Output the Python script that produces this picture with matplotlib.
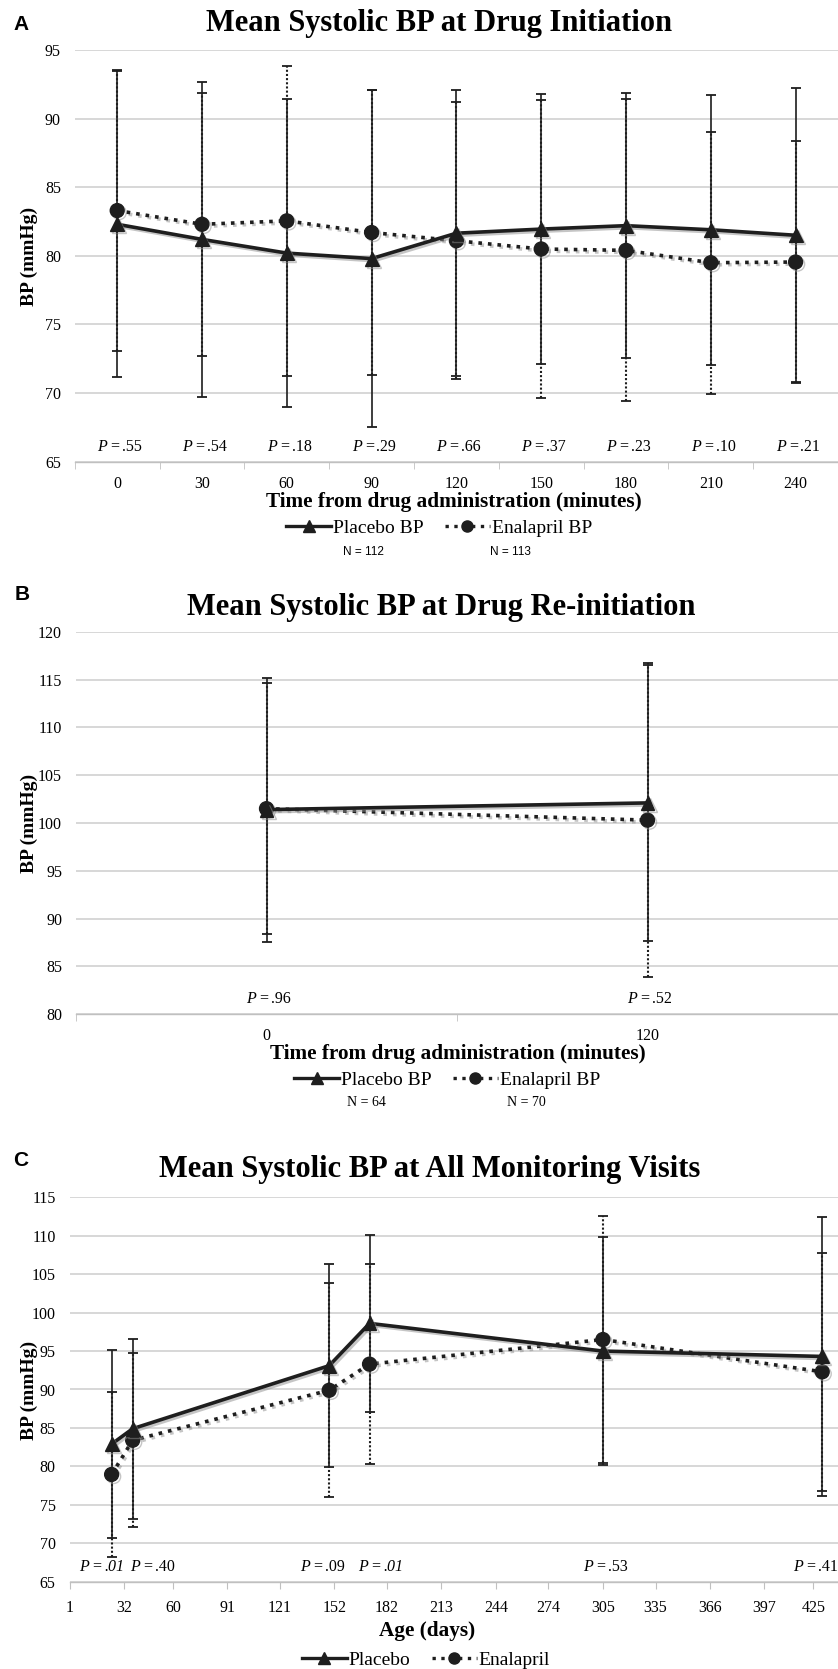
# recreate the three-panel systolic BP figure
import matplotlib
matplotlib.use('Agg')
import matplotlib.pyplot as plt
import matplotlib.patheffects as pe
from matplotlib.lines import Line2D

# ---------------- data ----------------
# panel A: drug initiation
a_times = ['0', '30', '60', '90', '120', '150', '180', '210', '240']
a_placebo_mean = [82.3, 81.2, 80.2, 79.8, 81.65, 81.95, 82.2, 81.9, 81.5]
a_placebo_sd = [11.15, 11.5, 11.2, 12.3, 10.4, 9.85, 9.65, 9.85, 10.7]
a_enal_mean = [83.3, 82.3, 82.55, 81.7, 81.1, 80.5, 80.4, 79.5, 79.55]
a_enal_sd = [10.25, 9.6, 11.3, 10.4, 10.1, 10.85, 11.0, 9.55, 8.85]
a_pvals = ['.55', '.54', '.18', '.29', '.66', '.37', '.23', '.10', '.21']
a_counts = ['N = 112', 'N = 113']

# panel B: drug re-initiation
b_times = ['0', '120']
b_placebo_mean = [101.4, 102.1]
b_placebo_sd = [13.8, 14.4]
b_enal_mean = [101.5, 100.3]
b_enal_sd = [13.1, 16.4]
b_pvals = ['.96', '.52']
b_counts = ['N = 64', 'N = 70']

# panel C: all monitoring visits
c_days = [25, 37, 149, 172, 305, 430]
c_placebo_mean = [82.9, 84.9, 93.1, 98.6, 95.0, 94.3]
c_placebo_sd = [12.2, 11.7, 13.2, 11.5, 14.8, 18.2]
c_enal_mean = [78.95, 83.4, 89.9, 93.3, 96.5, 92.3]
c_enal_sd = [10.7, 11.3, 13.9, 13.0, 16.1, 15.5]
c_pvals = ['.01', '.40', '.09', '.01', '.53', '.41']
c_pval_italic = [True, False, False, True, False, False]
c_ticks = [1, 32, 60, 91, 121, 152, 182, 213, 244, 274, 305, 335, 366, 397, 425]

# ---------------- style ----------------
plt.rcParams['font.family'] = ['Liberation Serif', 'DejaVu Serif']
plt.rcParams['mathtext.fontset'] = 'custom'
plt.rcParams['mathtext.rm'] = 'Liberation Serif'
plt.rcParams['mathtext.it'] = 'Liberation Serif:italic'

W, H = 838, 1669
dark = '#1e1e1e'
grid_col = '#d4d4d4'
shadow = [pe.SimpleLineShadow(offset=(1.5, -1.5), shadow_color='0.55', alpha=0.5), pe.Normal()]

fig = plt.figure(figsize=(W / 100, H / 100), dpi=100)


def px_axes(left, top, right, bottom):
    # axes box given in pixels from the top-left corner
    return fig.add_axes([left / W, 1 - bottom / H, (right - left) / W, (bottom - top) / H])


def fx(x):
    return x / W


def fy(y):
    return 1 - y / H


def base_style(ax, ylo, yhi, step):
    # grey gridlines, no frame except the bottom axis
    ax.set_ylim(ylo, yhi)
    ax.set_yticks(range(ylo, yhi + 1, step))
    ax.grid(axis='y', color=grid_col, lw=1.3)
    ax.set_axisbelow(True)
    for s in ['left', 'right', 'top']:
        ax.spines[s].set_visible(False)
    ax.spines['bottom'].set_color('#c0c0c0')
    ax.spines['bottom'].set_linewidth(1.0)
    ax.tick_params(axis='y', length=0, pad=10, labelsize=11.5)
    ax.tick_params(axis='x', labelsize=11.5)


def draw_series(ax, x, p_mean, p_sd, e_mean, e_sd):
    # error bars first, then the mean lines on top
    ax.errorbar(x, p_mean, yerr=p_sd, fmt='none', ecolor=dark, elinewidth=1.2,
                capsize=3.5, capthick=1.3, zorder=3)
    eb = ax.errorbar(x, e_mean, yerr=e_sd, fmt='none', ecolor=dark, elinewidth=1.5,
                     capsize=3.5, capthick=1.3, zorder=3)
    eb[2][0].set_linestyle((0, (1, 1)))
    ax.plot(x, p_mean, color=dark, lw=2.6, marker='^', ms=10, zorder=5, path_effects=shadow)
    ax.plot(x, e_mean, color=dark, lw=2.6, ls=':', marker='o', ms=10, zorder=4, path_effects=shadow)


def add_legend(ax, labels, cx, cy):
    handles = [Line2D([], [], color=dark, lw=2.4, marker='^', ms=8),
               Line2D([], [], color=dark, lw=2.4, ls=':', marker='o', ms=8)]
    ax.legend(handles, labels, loc='center', bbox_to_anchor=(fx(cx), fy(cy)),
              bbox_transform=fig.transFigure, ncol=2, frameon=False, fontsize=14,
              handlelength=2.3, handletextpad=0.1, columnspacing=1.1)


def p_label(ax, x, y, value, italic=False):
    # "P = " with an italic P, value to the right (italic when asked)
    ax.annotate('$P$ = ', xy=(x, y), xytext=(3.5, 0), textcoords='offset points',
                ha='right', va='center', fontsize=11.5)
    ax.annotate(value, xy=(x, y), xytext=(3.5, 0), textcoords='offset points',
                ha='left', va='center', fontsize=11.5,
                style='italic' if italic else 'normal')


# ---------------- panel A ----------------
ax = px_axes(74.8, 50, 838, 461.7)
xa = range(len(a_times))
base_style(ax, 65, 95, 5)
ax.set_xlim(-0.5, 8.41)
ax.set_xticks(xa)
ax.set_xticklabels(a_times)
ax.set_xticks([i - 0.5 for i in range(len(a_times) + 1)], minor=True)
ax.tick_params(axis='x', which='major', length=0, pad=10)
ax.tick_params(axis='x', which='minor', length=5, color='#c0c0c0')
draw_series(ax, xa, a_placebo_mean, a_placebo_sd, a_enal_mean, a_enal_sd)
for i, p in enumerate(a_pvals):
    p_label(ax, i, 66.1, p)
fig.text(fx(439), fy(23), 'Mean Systolic BP at Drug Initiation', ha='center', va='center',
         fontsize=22, fontweight='bold')
fig.text(fx(454), fy(502), 'Time from drug administration (minutes)', ha='center', va='center',
         fontsize=15.3, fontweight='bold')
fig.text(fx(29), fy(256), 'BP (mmHg)', ha='center', va='center', rotation=90,
         fontsize=14, fontweight='bold')
add_legend(ax, ['Placebo BP', 'Enalapril BP'], 439, 528)
fig.text(fx(363), fy(552), a_counts[0], ha='center', va='center', fontsize=8.5,
         family=['Liberation Sans Narrow', 'Liberation Sans'])
fig.text(fx(510), fy(552), a_counts[1], ha='center', va='center', fontsize=8.5,
         family=['Liberation Sans Narrow', 'Liberation Sans'])
fig.text(fx(21), fy(24), 'A', ha='center', va='center', fontsize=15, fontweight='bold',
         family='Liberation Sans')

# ---------------- panel B ----------------
ax = px_axes(76, 631.7, 838, 1014.3)
xb = range(len(b_times))
base_style(ax, 80, 120, 5)
ax.set_xlim(-0.5, 1.495)
ax.set_xticks(xb)
ax.set_xticklabels(b_times)
ax.set_xticks([-0.5, 0.5, 1.5], minor=True)
ax.tick_params(axis='x', which='major', length=0, pad=10)
ax.tick_params(axis='x', which='minor', length=5, color='#c0c0c0')
draw_series(ax, xb, b_placebo_mean, b_placebo_sd, b_enal_mean, b_enal_sd)
for i, p in enumerate(b_pvals):
    p_label(ax, i, 81.6, p)
fig.text(fx(441), fy(607), 'Mean Systolic BP at Drug Re-initiation', ha='center', va='center',
         fontsize=22, fontweight='bold')
fig.text(fx(458), fy(1054), 'Time from drug administration (minutes)', ha='center', va='center',
         fontsize=15.3, fontweight='bold')
fig.text(fx(29), fy(823), 'BP (mmHg)', ha='center', va='center', rotation=90,
         fontsize=14, fontweight='bold')
add_legend(ax, ['Placebo BP', 'Enalapril BP'], 447, 1080)
fig.text(fx(366), fy(1103), b_counts[0], ha='center', va='center', fontsize=10)
fig.text(fx(526), fy(1103), b_counts[1], ha='center', va='center', fontsize=10)
fig.text(fx(22), fy(595), 'B', ha='center', va='center', fontsize=15, fontweight='bold',
         family='Liberation Sans')

# ---------------- panel C ----------------
ax = px_axes(69.5, 1197.3, 838, 1581.7)
base_style(ax, 65, 115, 5)
ax.set_xlim(1, 439)
ax.set_xticks(c_ticks)
ax.tick_params(axis='x', length=5, color='#c0c0c0', pad=8)
draw_series(ax, c_days, c_placebo_mean, c_placebo_sd, c_enal_mean, c_enal_sd)
# a couple of P labels are nudged sideways so they do not collide
p_shift = [-7, 10, -5, 5, 0, -5]
for d, p, it, s in zip(c_days, c_pvals, c_pval_italic, p_shift):
    p_label(ax, d + s, 66.95, p, italic=it)
fig.text(fx(430), fy(1169), 'Mean Systolic BP at All Monitoring Visits', ha='center', va='center',
         fontsize=22, fontweight='bold')
fig.text(fx(427.5), fy(1631), 'Age (days)', ha='center', va='center',
         fontsize=15.3, fontweight='bold')
fig.text(fx(29), fy(1390), 'BP (mmHg)', ha='center', va='center', rotation=90,
         fontsize=14, fontweight='bold')
add_legend(ax, ['Placebo', 'Enalapril'], 426, 1660)
fig.text(fx(21), fy(1160), 'C', ha='center', va='center', fontsize=15, fontweight='bold',
         family='Liberation Sans')

fig.savefig('out.png', dpi=100)
